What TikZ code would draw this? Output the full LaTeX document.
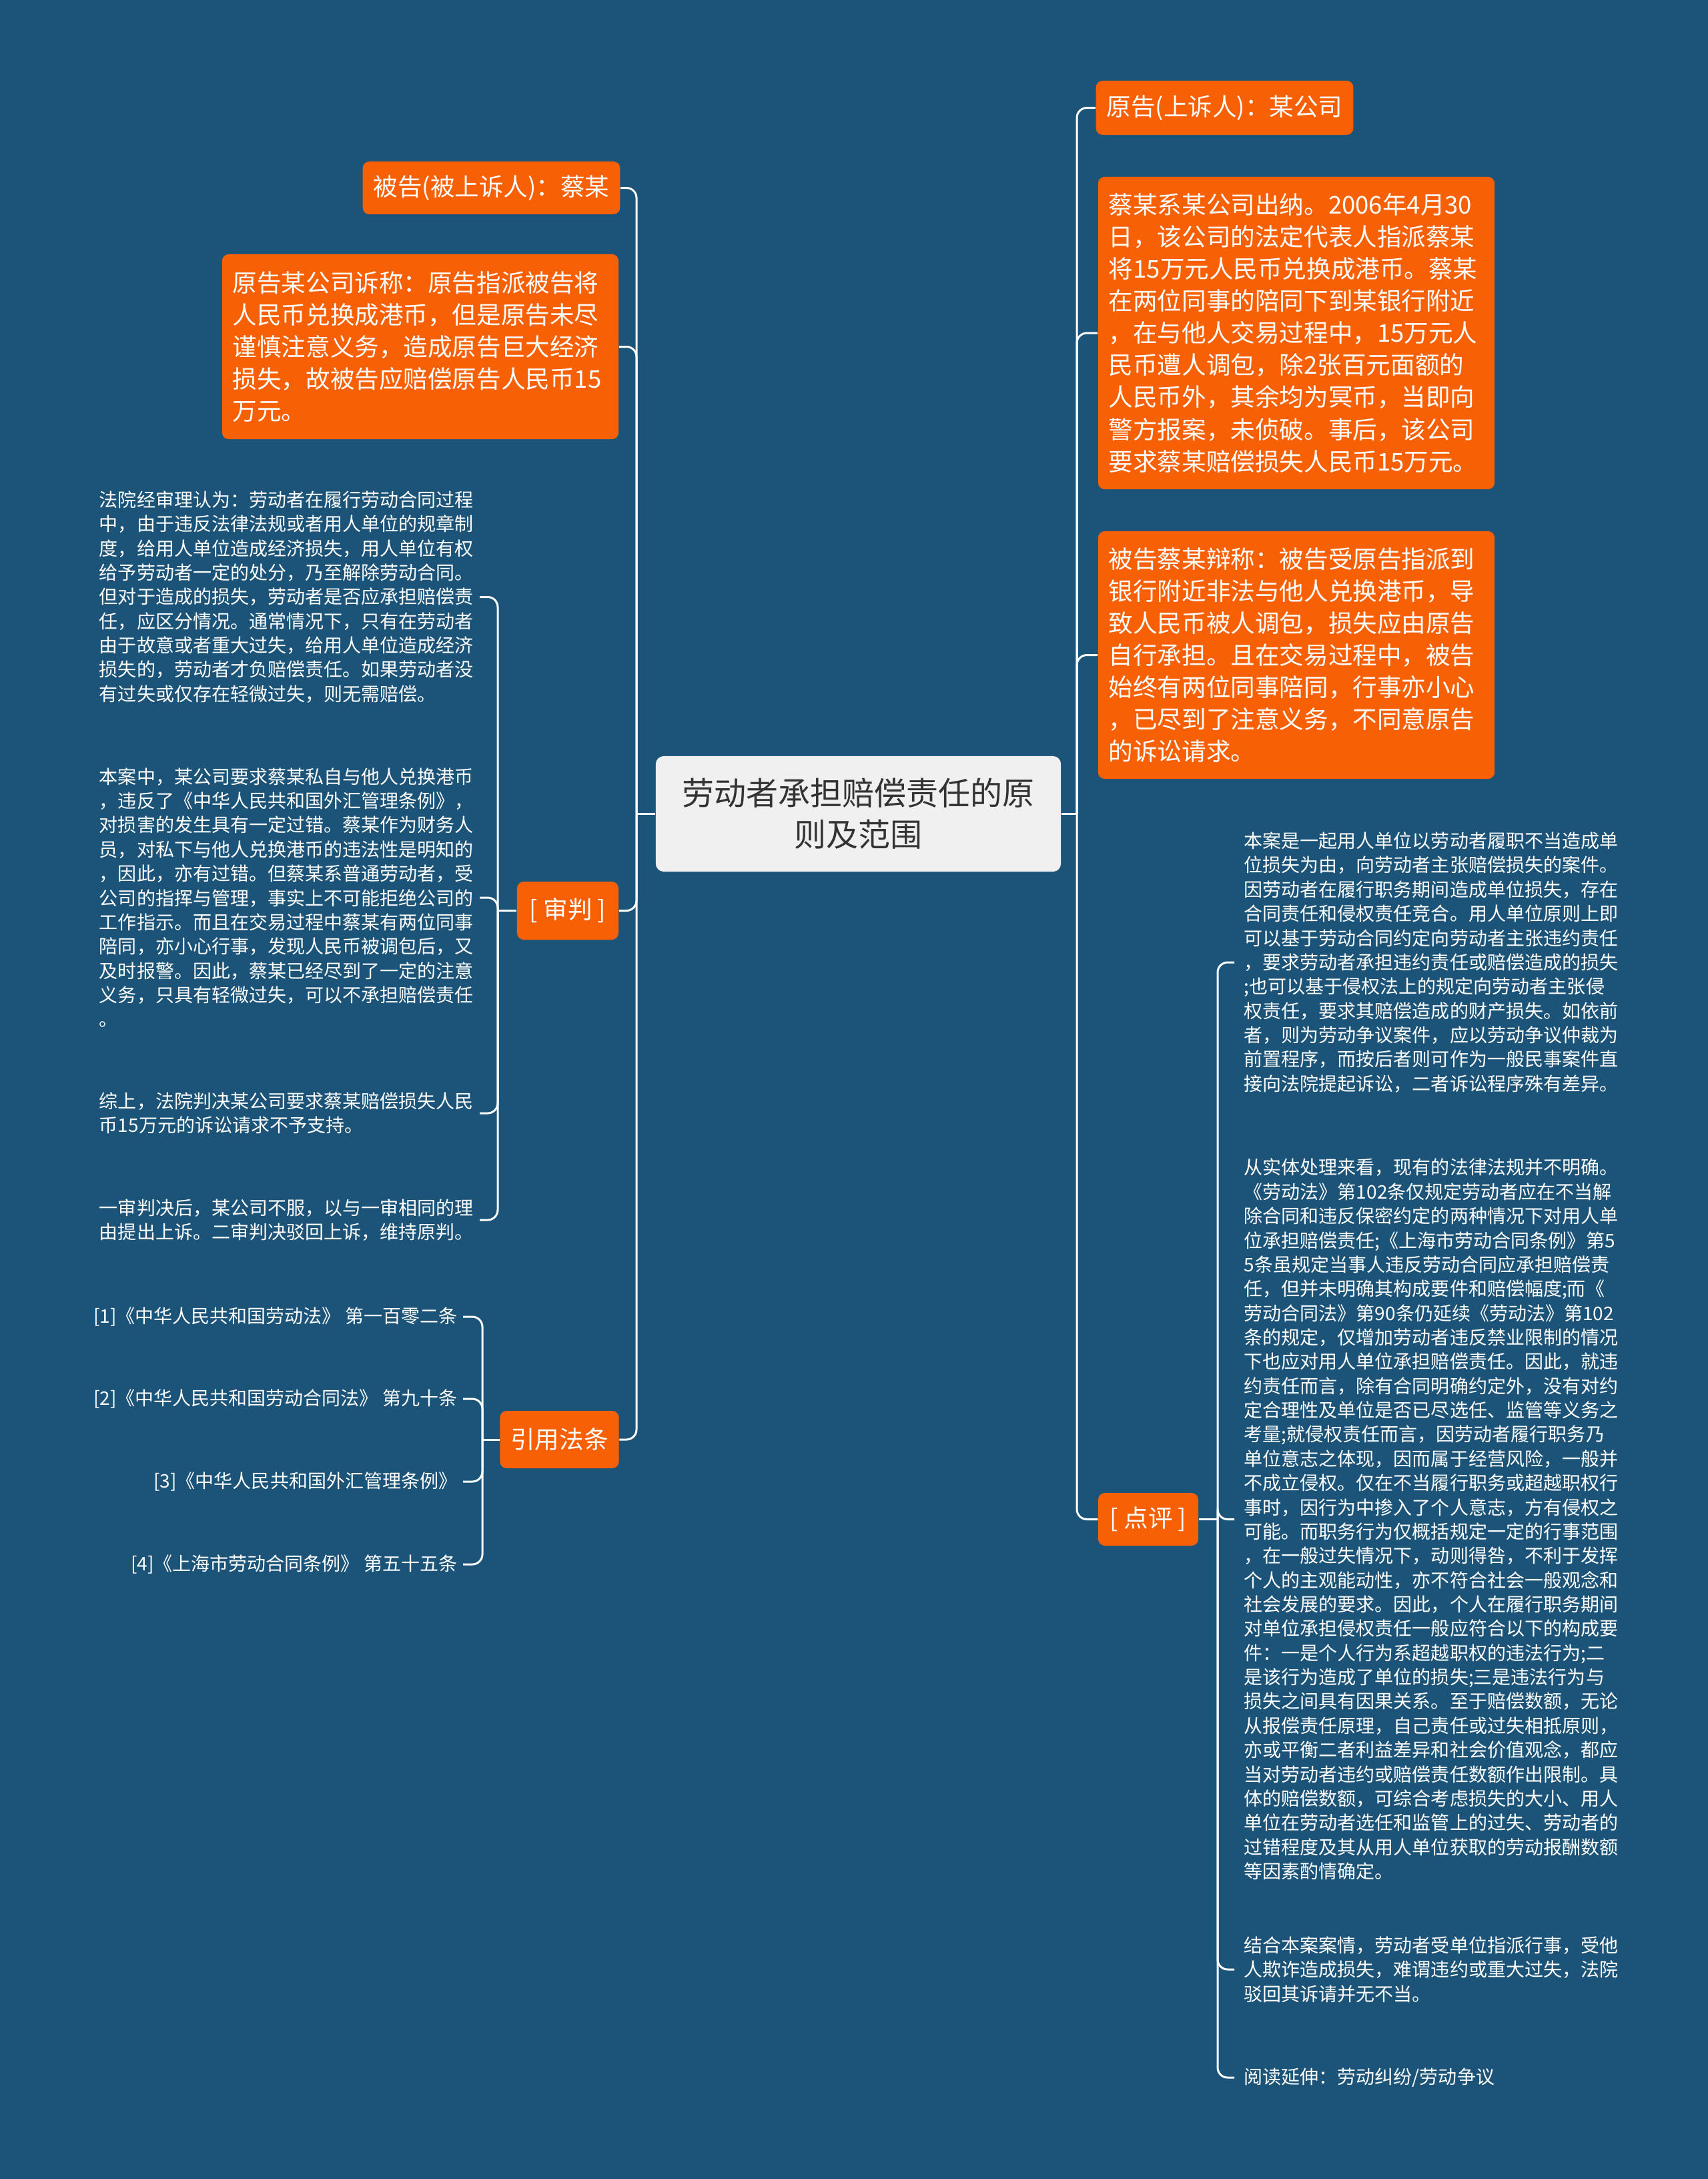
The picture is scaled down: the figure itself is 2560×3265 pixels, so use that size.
\documentclass[tikz,border=0pt]{standalone}
\usepackage{fontspec}
\setmainfont{Noto Sans CJK SC}
\definecolor{bg}{HTML}{1B5478}
\definecolor{org}{HTML}{F76005}
\definecolor{ctr}{HTML}{F0F0F0}
\definecolor{ink}{HTML}{333333}
\tikzset{
  conn/.style={draw=white, line width=0.03cm, rounded corners=0.15cm},
  obox/.style={fill=org, rounded corners=0.1cm, text=white,
    font=\fontsize{10.4pt}{13.66pt}\selectfont, inner xsep=0.16cm, inner ysep=0pt},
  oone/.style={obox, align=center},
  omulti/.style={obox, align=left, text width=5.62cm},
  ctrbox/.style={fill=ctr, rounded corners=0.12cm, text=ink, align=center,
    font=\fontsize{13.66pt}{17.6pt}\selectfont, minimum width=6.07cm, minimum height=1.73cm},
  leaf/.style={text=white, font=\fontsize{7.97pt}{10.34pt}\selectfont, inner ysep=0pt},
  sleaf/.style={leaf, align=left, text width=5.6cm, inner xsep=0.09cm, anchor=east},
  cleaf/.style={leaf, align=right, inner xsep=0.08cm, anchor=east},
  pleaf/.style={leaf, align=left, text width=5.63cm, inner xsep=0.14cm, anchor=west}
}
\begin{document}
\begin{tikzpicture}[x=0.01cm, y=-0.01cm]
\useasboundingbox (0,0) rectangle (2560,3265);
\fill[bg] (0,0) rectangle (2560,3265);

% center
\node[ctrbox] (c) at (1286.5,1219.5) {劳动者承担赔偿责任的原\\则及范围};

% left first level
\node[oone, minimum width=3.81cm, minimum height=0.79cm] (a1) at (736.5,281.5) {被告(被上诉人)：蔡某};
\node[omulti, minimum height=2.77cm] (a2) at (630,519.5) {原告某公司诉称：原告指派被告将\\人民币兑换成港币，但是原告未尽\\谨慎注意义务，造成原告巨大经济\\损失，故被告应赔偿原告人民币15\\万元。};
\node[oone, minimum width=1.52cm, minimum height=0.87cm] (a3) at (851,1364.5) {[ 审判 ]};
\node[oone, minimum width=1.77cm, minimum height=0.86cm] (a4) at (838.5,2157) {引用法条};

% right first level
\node[oone, minimum width=3.79cm, minimum height=0.81cm] (b1) at (1835.5,161.5) {原告(上诉人)：某公司};
\node[omulti, minimum height=4.68cm] (b2) at (1943,499) {蔡某系某公司出纳。2006年4月30\\日，该公司的法定代表人指派蔡某\\将15万元人民币兑换成港币。蔡某\\在两位同事的陪同下到某银行附近\\，在与他人交易过程中，15万元人\\民币遭人调包，除2张百元面额的\\人民币外，其余均为冥币，当即向\\警方报案，未侦破。事后，该公司\\要求蔡某赔偿损失人民币15万元。};
\node[omulti, minimum height=3.71cm] (b3) at (1943,981.5) {被告蔡某辩称：被告受原告指派到\\银行附近非法与他人兑换港币，导\\致人民币被人调包，损失应由原告\\自行承担。且在交易过程中，被告\\始终有两位同事陪同，行事亦小心\\，已尽到了注意义务，不同意原告\\的诉讼请求。};
\node[oone, minimum width=1.50cm, minimum height=0.79cm] (b4) at (1721,2276.5) {[ 点评 ]};

% shen pan children
\node[sleaf] (s1) at (719,894.5) {法院经审理认为：劳动者在履行劳动合同过程\\中，由于违反法律法规或者用人单位的规章制\\度，给用人单位造成经济损失，用人单位有权\\给予劳动者一定的处分，乃至解除劳动合同。\\但对于造成的损失，劳动者是否应承担赔偿责\\任，应区分情况。通常情况下，只有在劳动者\\由于故意或者重大过失，给用人单位造成经济\\损失的，劳动者才负赔偿责任。如果劳动者没\\有过失或仅存在轻微过失，则无需赔偿。};
\node[sleaf] (s2) at (719,1345) {本案中，某公司要求蔡某私自与他人兑换港币\\，违反了《中华人民共和国外汇管理条例》，\\对损害的发生具有一定过错。蔡某作为财务人\\员，对私下与他人兑换港币的违法性是明知的\\，因此，亦有过错。但蔡某系普通劳动者，受\\公司的指挥与管理，事实上不可能拒绝公司的\\工作指示。而且在交易过程中蔡某有两位同事\\陪同，亦小心行事，发现人民币被调包后，又\\及时报警。因此，蔡某已经尽到了一定的注意\\义务，只具有轻微过失，可以不承担赔偿责任\\。};
\node[sleaf] (s3) at (719,1668) {综上，法院判决某公司要求蔡某赔偿损失人民\\币15万元的诉讼请求不予支持。};
\node[sleaf] (s4) at (719,1828) {一审判决后，某公司不服，以与一审相同的理\\由提出上诉。二审判决驳回上诉，维持原判。};

% citation children
\node[cleaf] (r1) at (694,1973) {[1]《中华人民共和国劳动法》 第一百零二条};
\node[cleaf] (r2) at (694,2096) {[2]《中华人民共和国劳动合同法》 第九十条};
\node[cleaf] (r3) at (694,2220) {[3]《中华人民共和国外汇管理条例》};
\node[cleaf] (r4) at (694,2344) {[4]《上海市劳动合同条例》 第五十五条};

% dianping children
\node[pleaf] (p1) at (1850,1442) {本案是一起用人单位以劳动者履职不当造成单\\位损失为由，向劳动者主张赔偿损失的案件。\\因劳动者在履行职务期间造成单位损失，存在\\合同责任和侵权责任竞合。用人单位原则上即\\可以基于劳动合同约定向劳动者主张违约责任\\，要求劳动者承担违约责任或赔偿造成的损失\\;也可以基于侵权法上的规定向劳动者主张侵\\权责任，要求其赔偿造成的财产损失。如依前\\者，则为劳动争议案件，应以劳动争议仲裁为\\前置程序，而按后者则可作为一般民事案件直\\接向法院提起诉讼，二者诉讼程序殊有差异。};
\node[pleaf] (p2) at (1850,2276.5) {从实体处理来看，现有的法律法规并不明确。\\《劳动法》第102条仅规定劳动者应在不当解\\除合同和违反保密约定的两种情况下对用人单\\位承担赔偿责任;《上海市劳动合同条例》第5\\5条虽规定当事人违反劳动合同应承担赔偿责\\任，但并未明确其构成要件和赔偿幅度;而《\\劳动合同法》第90条仍延续《劳动法》第102\\条的规定，仅增加劳动者违反禁业限制的情况\\下也应对用人单位承担赔偿责任。因此，就违\\约责任而言，除有合同明确约定外，没有对约\\定合理性及单位是否已尽选任、监管等义务之\\考量;就侵权责任而言，因劳动者履行职务乃\\单位意志之体现，因而属于经营风险，一般并\\不成立侵权。仅在不当履行职务或超越职权行\\事时，因行为中掺入了个人意志，方有侵权之\\可能。而职务行为仅概括规定一定的行事范围\\，在一般过失情况下，动则得咎，不利于发挥\\个人的主观能动性，亦不符合社会一般观念和\\社会发展的要求。因此，个人在履行职务期间\\对单位承担侵权责任一般应符合以下的构成要\\件：一是个人行为系超越职权的违法行为;二\\是该行为造成了单位的损失;三是违法行为与\\损失之间具有因果关系。至于赔偿数额，无论\\从报偿责任原理，自己责任或过失相抵原则，\\亦或平衡二者利益差异和社会价值观念，都应\\当对劳动者违约或赔偿责任数额作出限制。具\\体的赔偿数额，可综合考虑损失的大小、用人\\单位在劳动者选任和监管上的过失、劳动者的\\过错程度及其从用人单位获取的劳动报酬数额\\等因素酌情确定。};
\node[pleaf] (p3) at (1850,2951) {结合本案案情，劳动者受单位指派行事，受他\\人欺诈造成损失，难谓违约或重大过失，法院\\驳回其诉请并无不当。};
\node[pleaf] (p4) at (1850,3113) {阅读延伸：劳动纠纷/劳动争议};

% junctions
\coordinate (jl) at (954,1219.5);
\coordinate (jr) at (1614,1219.5);
\coordinate (j3) at (746,1364.5);
\coordinate (j4) at (723,2157);
\coordinate (j5) at (1825,2276.5);

% connectors
\draw[conn] (c.west) -- (jl);
\draw[conn] (c.east) -- (jr);
\foreach \n in {a1,a2,a3,a4} \draw[conn] (jl) |- (\n.east);
\foreach \n in {b1,b2,b3,b4} \draw[conn] (jr) |- (\n.west);
\draw[conn] (a3.west) -- (j3);
\foreach \n in {s1,s2,s3,s4} \draw[conn] (j3) |- (\n.east);
\draw[conn] (a4.west) -- (j4);
\foreach \n in {r1,r2,r3,r4} \draw[conn] (j4) |- (\n.east);
\draw[conn] (b4.east) -- (j5);
\foreach \n in {p1,p2,p3,p4} \draw[conn] (j5) |- (\n.west);
\end{tikzpicture}
\end{document}
